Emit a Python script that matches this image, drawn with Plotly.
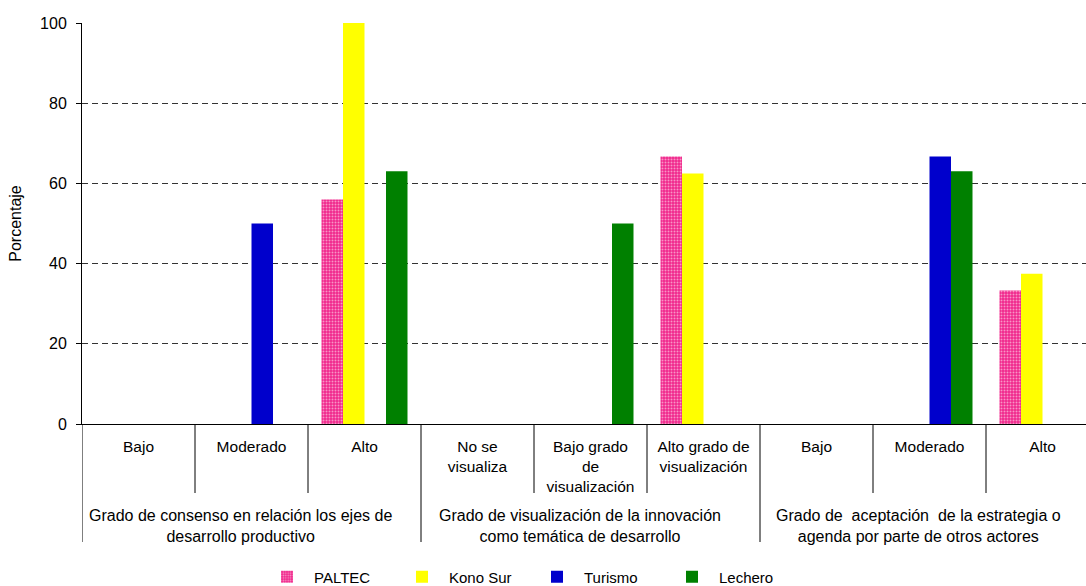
import plotly.graph_objects as go

categories = ["Bajo", "Moderado", "Alto",
              "No se<br>visualiza", "Bajo grado<br>de<br>visualización", "Alto grado de<br>visualización",
              "Bajo", "Moderado", "Alto"]
groups = ["Grado de consenso en relación los ejes de<br>desarrollo productivo",
          "Grado de visualización de la innovación<br>como temática de desarrollo",
          "Grado de  aceptación  de la estrategia o<br>agenda por parte de otros actores"]
group_sizes = [3, 3, 3]

paltec = [0, 0, 56, 0, 0, 66.7, 0, 0, 33.3]
kono_sur = [0, 0, 100, 0, 0, 62.5, 0, 0, 37.5]
turismo = [0, 50, 0, 0, 0, 0, 0, 66.7, 0]
lechero = [0, 0, 63, 0, 50, 0, 0, 63, 0]

y_ticks = [0, 20, 40, 60, 80, 100]

FONT = "Liberation Sans, Arial, sans-serif"
xpos = list(range(len(categories)))

fig = go.Figure()
fig.add_trace(go.Bar(x=xpos, y=paltec, name="PALTEC",
                     marker=dict(color="#F0288C", line=dict(width=0),
                                 pattern=dict(shape=".", fgcolor="white", bgcolor="#F0288C",
                                              size=3, solidity=0.35))))
fig.add_trace(go.Bar(x=xpos, y=kono_sur, name="Kono Sur",
                     marker=dict(color="#FFFF00", line=dict(width=0))))
fig.add_trace(go.Bar(x=xpos, y=turismo, name="Turismo",
                     marker=dict(color="#0000CC", line=dict(width=0))))
fig.add_trace(go.Bar(x=xpos, y=lechero, name="Lechero",
                     marker=dict(color="#008000", line=dict(width=0))))

plot_h = 401.0
# plot area spans 82..1086 px; category width ~113 px so the last category is cut by the frame
x_max = -0.5 + (1086 - 82) / 113.0

shapes = []
boundaries = [sum(group_sizes[:k]) - 0.5 for k in range(len(group_sizes) + 1)]
for i in range(len(categories) + 1):
    xb = i - 0.5
    if xb > x_max:
        continue
    if xb in boundaries:
        y1 = -(542 - 424) / plot_h
    else:
        y1 = -(493 - 424) / plot_h
    shapes.append(dict(type="line", xref="x", yref="paper", x0=xb, x1=xb, y0=0, y1=y1,
                       line=dict(color="black", width=1)))

annotations = []
start = 0
for g, n in zip(groups, group_sizes):
    center = start + (n - 1) / 2
    annotations.append(dict(text=g, xref="x", yref="paper", x=center, y=-(505 - 424) / plot_h,
                            xanchor="center", yanchor="top", showarrow=False, align="center",
                            xshift=-11,
                            font=dict(family=FONT, size=16, color="black")))
    start += n

fig.update_layout(
    width=1086, height=586,
    margin=dict(l=82, r=0, t=23, b=162, autoexpand=False),
    paper_bgcolor="white", plot_bgcolor="white",
    barmode="group", bargap=0.239, bargroupgap=0,
    font=dict(family=FONT, size=15, color="black"),
    shapes=shapes, annotations=annotations,
    showlegend=True,
    legend=dict(orientation="h", x=(260 - 82) / 1004, xanchor="left",
                y=-(577 - 424) / plot_h, yanchor="middle",
                itemwidth=44, entrywidth=76, entrywidthmode="pixels",
                font=dict(family=FONT, size=15, color="black"),
                bgcolor="rgba(0,0,0,0)"),
    xaxis=dict(range=[-0.5, x_max], tickmode="array", tickvals=xpos,
               ticktext=categories, ticks="", showline=True, linecolor="black", linewidth=1,
               showgrid=False, zeroline=False, ticklabelstandoff=8,
               tickfont=dict(family=FONT, size=15.5, color="black"), fixedrange=True),
    yaxis=dict(range=[0, 100], tickmode="array", tickvals=y_ticks, ticks="outside", ticklen=5,
               tickcolor="black", showline=True, linecolor="black", linewidth=1,
               showgrid=True, gridcolor="#333333", griddash="6px,4px", gridwidth=1,
               zeroline=False, ticklabelstandoff=6,
               title=dict(text="Porcentaje", font=dict(family=FONT, size=16, color="black"),
                          standoff=14),
               tickfont=dict(family=FONT, size=16, color="black"), fixedrange=True),
)

fig.write_html("out.html")
